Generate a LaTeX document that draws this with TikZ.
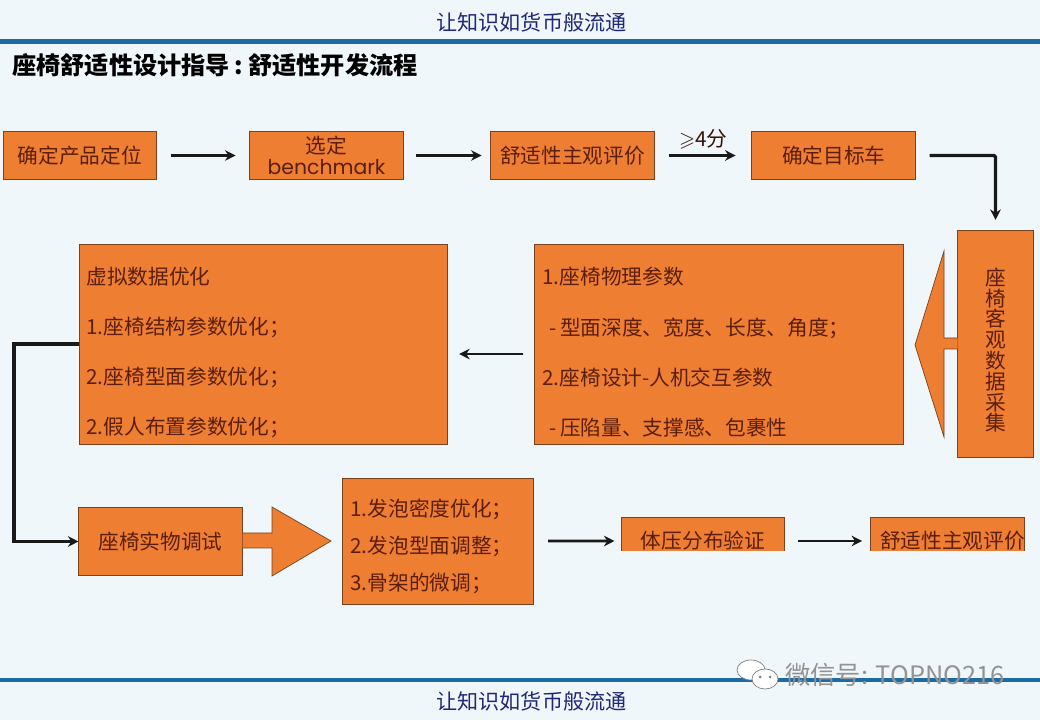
\documentclass[tikz,border=0pt]{standalone}
\usepackage{amsmath,amssymb}
\usepackage{fontspec}
\setmainfont{Noto Sans CJK SC}
\newfontfamily\benchfont{Poppins}
\definecolor{slidebg}{RGB}{240,247,251}
\definecolor{ruleblue}{RGB}{28,107,163}
\definecolor{headnavy}{RGB}{30,40,120}
\definecolor{boxorange}{RGB}{238,126,50}
\definecolor{boxedge}{RGB}{120,66,30}
\definecolor{boxtext}{RGB}{92,30,12}
\usetikzlibrary{shapes,arrows,arrows.meta,positioning,calc}

\tikzset{
    stepbox/.style={draw=boxedge, line width=0.7pt, fill=boxorange, text=boxtext, outer sep=0pt,
        align=center, minimum width=3.825cm, minimum height=1.2cm, inner sep=0pt,
        font=\fontsize{14.7}{18}\selectfont},
    listbox/.style={stepbox, align=left, anchor=north west, inner sep=0pt},
    flowline/.style={-{Stealth[length=7.5pt,width=7.5pt]}, line width=1.9pt, black!90},
    blockarrow/.style={draw=boxedge, line width=0.5pt, fill=boxorange},
    headtext/.style={text=headnavy, font=\fontsize{15}{18}\selectfont, inner sep=0pt},
}

\begin{document}
\begin{tikzpicture}[x=0.025cm, y=-0.025cm]
            \useasboundingbox (0,0) rectangle (1040,720);
            \fill[slidebg] (0,0) rectangle (1040,720);
            \draw[ruleblue, line width=2.9pt] (0,41.5) -- (1040,41.5);
            \draw[ruleblue, line width=2.9pt] (0,680) -- (1040,680);

            \node[headtext] (headtop) at (531.5,22) {让知识如货币般流通};
            \node[headtext] (headbottom) at (531.5,701) {让知识如货币般流通};
            \node[anchor=west, inner sep=0pt, font=\fontsize{17.2}{20}\bfseries\selectfont] (title) at (12,65.5) {座椅舒适性设计指导\hspace{3.5pt}:\hspace{3.5pt}舒适性开发流程};

            % first row
            \node[stepbox] (position) at (80,155.5) {确定产品定位};
            \node[stepbox, minimum width=3.85cm, right=2.325cm of position] (bench) {选定\\[-3pt]{\benchfont\fontsize{14.5}{18}\selectfont benchmark}};
            \node[stepbox, minimum width=4.1cm, right=2.175cm of bench] (subjective) {舒适性主观评价};
            \node[stepbox, minimum width=4.1cm, right=2.425cm of subjective] (target) {确定目标车};
            \node[stepbox, minimum width=1.9cm, minimum height=5.65cm, font=\fontsize{14.7}{14.8}\selectfont] (collect) at (995.5,344) {\rule{0pt}{21.3pt}座\\椅\\客\\观\\数\\据\\采\\集};

            % second row
            \node[listbox, text width=8.8cm, minimum width=9.225cm, minimum height=5cm, font=\fontsize{14.7}{35.6}\selectfont] (params) at (534,244) {\rule{0pt}{24pt}1.座椅物理参数\\
                \ -\,型面深度、宽度、长度、角度；\\
                2.座椅设计-人机交互参数\\
                \ -\,压陷量、支撑感、包裹性};
            \node[listbox, text width=8.825cm, minimum width=9.2cm, minimum height=5cm, font=\fontsize{14.7}{35.6}\selectfont] (virtual) at (79,244) {\rule{0pt}{24pt}虚拟数据优化\\
                1.座椅结构参数优化；\\
                2.座椅型面参数优化；\\
                2.假人布置参数优化；};

            % third row
            \node[stepbox, minimum width=4.1cm, minimum height=1.7cm] (trial) at (160.5,541.5) {座椅实物调试};
            \node[listbox, text width=4.35cm, minimum width=4.775cm, minimum height=3.15cm, font=\fontsize{14.7}{26.3}\selectfont] (foam) at (342,478) {\rule{0pt}{19.8pt}1.发泡密度优化；\\
                2.发泡型面调整；\\
                3.骨架的微调；};
            \begin{scope}
                \clip (600,500) rectangle (1040,551);
                \node[stepbox, minimum width=4.075cm, minimum height=1.2cm] (pressure) at (703,541) {体压分布验证};
                \node[stepbox, minimum width=3.85cm, minimum height=1.2cm] (comfort) at (947.5,541) {\hspace{7.1pt}舒适性主观评价};
            \end{scope}

            % block arrows
            \draw[blockarrow] (collect.west |- 0,338) -- (944,338) -- (944,251) -- (915,345) -- (944,437) -- (944,349) -- (collect.west |- 0,349);
            \draw[blockarrow] (trial.east |- 0,533) -- (272,533) -- (272,507) -- (331,541) -- (272,576) -- (272,548) -- (trial.east |- 0,548);

            % connectors
            \draw[flowline, shorten <=.35cm, shorten >=.35cm] (position) -- (bench);
            \draw[flowline, shorten <=.3cm, shorten >=.225cm] (bench) -- (subjective);
            \draw[flowline, shorten <=.35cm, shorten >=.4cm] (subjective) -- node[above=.125cm, inner sep=0pt, font=\fontsize{14.7}{18}\selectfont, text=boxtext!60!black] (score) {$\geqslant$4分} (target);
            \draw[flowline, line width=2.4pt, rounded corners=1pt, shorten <=.35cm, shorten >=.275cm] (target.east) -- (target.east -| collect.north) -- (collect.north);
            \draw[flowline, shorten <=.275cm, shorten >=.3cm] ([yshift=-0.25cm]params.west) -- ([yshift=-0.25cm]virtual.east);
            \draw[flowline, line width=2.4pt] (virtual.west) -- ++(-65,0) |- (trial.west);
            \draw[flowline, shorten <=.375cm, shorten >=.175cm] (foam.east) -- (pressure.west);
            \draw[flowline, shorten <=.325cm, shorten >=.2cm] (pressure.east) -- (comfort.west);

            % watermark
            \draw[gray, fill=white, line width=0.5pt] (751,670) ellipse (14 and 10);
            \draw[gray, fill=white, line width=0.5pt] (765,679) ellipse (13 and 10);
            \fill[gray] (760,677) circle (1.5) (770,677) circle (1.5);
            \node[anchor=west, inner sep=0pt, text=gray!85, font=\fontsize{18}{20}\selectfont] (wechat) at (785,675) {微信号: TOPNO216};
        \end{tikzpicture}
\end{document}
